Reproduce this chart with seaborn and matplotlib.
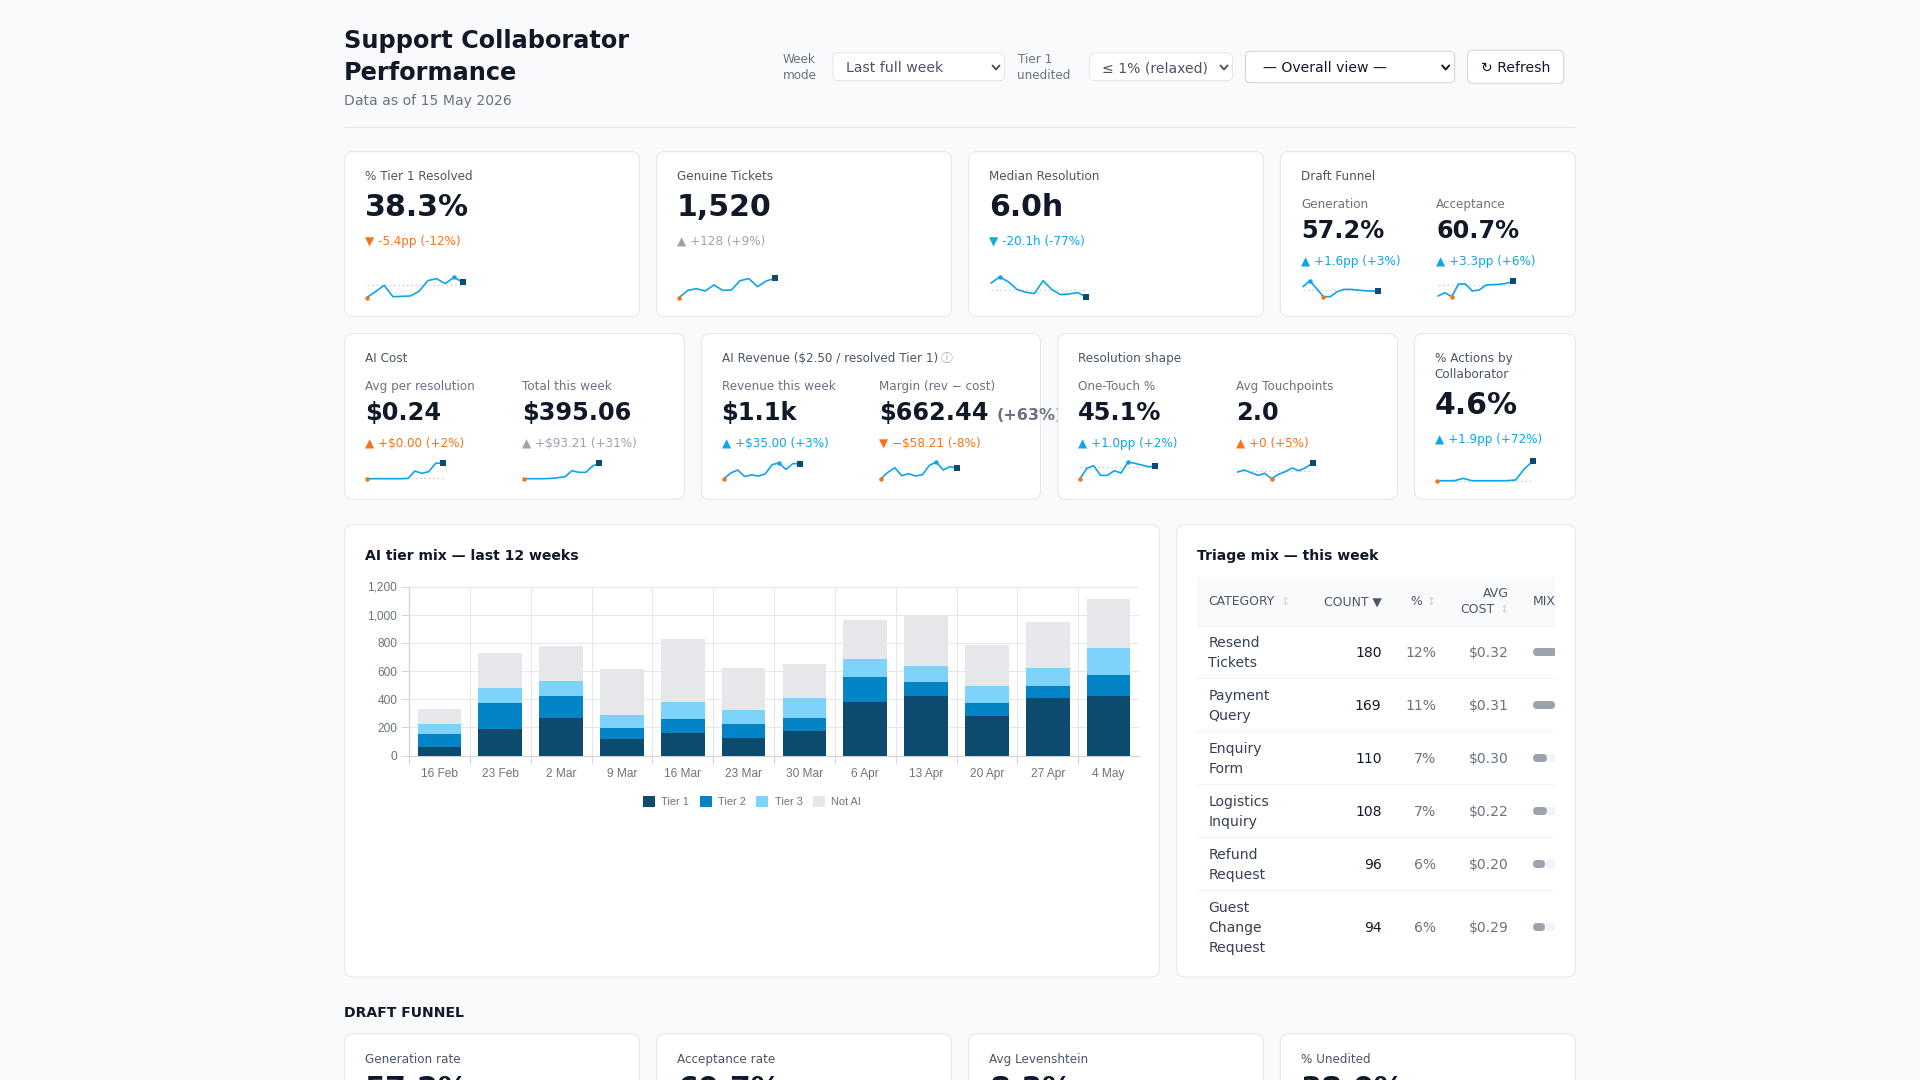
import matplotlib
matplotlib.use('Agg')
import matplotlib.pyplot as plt
import numpy as np
import pandas as pd
import seaborn as sns
from matplotlib.patches import FancyBboxPatch, Patch, Rectangle

# Dados do grafico empilhado
weeks = ['16 Feb', '23 Feb', '2 Mar', '9 Mar', '16 Mar', '23 Mar', '30 Mar', '6 Apr', '13 Apr', '20 Apr', '27 Apr', '4 May']
tier1 = [57, 188, 265, 119, 162, 124, 172, 382, 420, 281, 410, 425]
tier2 = [98, 184, 157, 77, 96, 100, 95, 176, 102, 91, 86, 148]
tier3 = [72, 110, 108, 95, 121, 100, 138, 127, 117, 124, 127, 193]
not_ai = [100, 245, 248, 322, 451, 299, 246, 276, 361, 286, 322, 348]

# Sparklines (12 semanas, escala relativa)
spark_tier1 = [0, 18, 37, 3, 4, 5, 19, 51, 57, 42, 61, 46]
spark_tickets = [0, 22, 27, 20, 38, 22, 23, 51, 57, 33, 50, 58]
spark_median = [42, 60, 46, 23, 15, 11, 49, 23, 8, 10, 14, 0]
spark_generation = [30, 48, 24, 0, 0, 15, 22, 22, 20, 18, 17, 17]
spark_acceptance = [2, 12, 0, 38, 38, 17, 20, 35, 36, 37, 40, 46]
spark_avg_cost = [0, 0, 0, 0, 0, 0, 1, 23, 16, 21, 46, 47]
spark_total_cost = [0, 0, 0, 0, 1, 3, 6, 24, 19, 19, 38, 47]
spark_revenue = [0, 18, 27, 7, 12, 8, 15, 44, 49, 29, 47, 47]
spark_margin = [0, 19, 33, 9, 15, 8, 12, 40, 50, 26, 36, 32]
spark_one_touch = [0, 31, 39, 10, 10, 24, 17, 50, 46, 41, 36, 37]
spark_touchpoints = [20, 26, 18, 10, 16, 0, 13, 21, 32, 24, 33, 47]
spark_actions = [0, 0, 0, 7, 0, 0, 0, 0, 0, 2, 35, 59]

# Tabela de triagem
triage_names = [['Resend', 'Tickets'], ['Payment', 'Query'], ['Enquiry', 'Form'],
                ['Logistics', 'Inquiry'], ['Refund', 'Request'], ['Guest', 'Change', 'Request']]
triage_count = [180, 169, 110, 108, 96, 94]
triage_pct = [12, 11, 7, 7, 6, 6]
triage_cost = [0.32, 0.31, 0.30, 0.22, 0.20, 0.29]

BG = '#f9fafb'
BORDER = '#e5e7eb'
DARK = '#111827'
LABEL = '#4b5563'
SUB = '#6b7280'
ORANGE = '#f97316'
SKY = '#0ea5e9'
GREY = '#9ca3af'
NAVY = '#0c4a6e'
W, H = 1920, 1080

sns.set_theme(style='white')
plt.rcParams['font.family'] = ['DejaVu Sans', 'Noto Sans CJK SC']

fig = plt.figure(figsize=(19.2, 10.8), dpi=100, facecolor=BG)
page = fig.add_axes([0, 0, 1, 1], zorder=0)
page.set_xlim(0, W)
page.set_ylim(H, 0)
page.axis('off')


def txt(x, y, s, px=12, color=LABEL, weight='normal', ha='left', va='baseline', z=5, family=None):
    t = page.text(x, y, s, fontsize=px * 0.72, color=color, fontweight=weight, ha=ha, va=va, zorder=z)
    if family:
        t.set_family(family)
    return t


def box(x0, y0, x1, y1, r=8, face='white', edge=BORDER, z=1):
    page.add_patch(FancyBboxPatch((x0 + r, y0 + r), x1 - x0 - 2 * r, y1 - y0 - 2 * r,
                                  boxstyle=f'round,pad={r},rounding_size={r}',
                                  facecolor=face, edgecolor=edge, linewidth=0.75, zorder=z))


def chevron(x, y, color=LABEL):
    page.plot([x - 3.5, x, x + 3.5], [y - 2, y + 2, y - 2], color=color, lw=1.4, zorder=5)


def spark(x0, x1, y_top, y_bot, values, base=None):
    ax = fig.add_axes([x0 / W, 1 - y_bot / H, (x1 - x0) / W, (y_bot - y_top) / H], zorder=4)
    ax.patch.set_alpha(0)
    pos = list(range(len(values)))
    sns.lineplot(x=pos, y=values, ax=ax, color=SKY, linewidth=1.2, errorbar=None, legend=False, clip_on=False)
    if base is not None:
        ax.axhline(base, color='#d1d5db', lw=0.9, ls=(0, (1.5, 2)), zorder=1, clip_on=False)
    lo, hi = int(np.argmin(values)), int(np.argmax(values))
    if hi != len(values) - 1:
        ax.plot(hi, values[hi], marker='o', ms=3.2, mew=0, color=SKY, clip_on=False)
    if lo != len(values) - 1:
        ax.plot(lo, values[lo], marker='o', ms=3.2, mew=0, color=ORANGE, clip_on=False, zorder=6)
    ax.plot(len(values) - 1, values[-1], marker='s', ms=3.8, mew=0, color=NAVY, clip_on=False, zorder=6)
    ax.set_xlim(0, len(values) - 1)
    ax.set_ylim(min(values), max(values))
    ax.axis('off')


# Cabecalho
txt(344, 48, 'Support Collaborator', 24, DARK, 'bold')
txt(344, 80, 'Performance', 24, DARK, 'bold')
txt(344, 105, 'Data as of 15 May 2026', 14, SUB)
page.plot([344, 1574.5], [126.5, 126.5], color=BORDER, lw=0.75, zorder=1, solid_capstyle='butt')

txt(782.5, 63, 'Week', 12, SUB)
txt(782.5, 79, 'mode', 12, SUB)
box(833, 53, 1004.5, 80.7, r=5)
txt(846.5, 68, 'Last full week', 14, LABEL, va='center')
chevron(996, 67.5)
txt(1017.5, 63, 'Tier 1', 12, SUB)
txt(1017.5, 79, 'unedited', 12, SUB)
box(1089.4, 53, 1232.5, 80.7, r=5)
txt(1102.5, 68, '≤ 1% (relaxed)', 14, LABEL, va='center')
chevron(1224, 67.5)
box(1245.5, 51.3, 1454.7, 82.7, r=5, edge='#d1d5db')
txt(1263, 68, '— Overall view —', 14, DARK, va='center')
chevron(1445.7, 67.5, DARK)
box(1467.5, 50.3, 1563.7, 83.3, r=5, edge='#d1d5db')
txt(1481, 68, '↻ Refresh', 14, DARK, va='center')

# Primeira linha de cards
for x0, x1 in [(344.7, 639.5), (656.5, 951.5), (968.6, 1263.5), (1280.4, 1575.5)]:
    box(x0, 151.7, x1, 316.5)
txt(365, 180, '% Tier 1 Resolved')
txt(365, 216, '38.3%', 30, DARK, 'bold')
txt(365, 245, '▼ -5.4pp (-12%)', 12, ORANGE)
spark(366.7, 462.7, 277.3, 297.7, spark_tier1, 37)

txt(677, 180, 'Genuine Tickets')
txt(677, 216, '1,520', 30, DARK, 'bold')
txt(677, 245, '▲ +128 (+9%)', 12, GREY)
spark(679, 775, 278.3, 297.7, spark_tickets)

txt(989, 180, 'Median Resolution')
txt(989, 216, '6.0h', 30, DARK, 'bold')
txt(989, 245, '▼ -20.1h (-77%)', 12, SKY)
spark(991, 1086.5, 277, 297.3, spark_median, 22)

txt(1301, 180, 'Draft Funnel')
txt(1301, 208, 'Generation', 12, SUB)
txt(1301, 237.5, '57.2%', 24, DARK, 'bold')
txt(1301, 265, '▲ +1.6pp (+3%)', 12, SKY)
spark(1303, 1378, 280.7, 296.7, spark_generation, 19)
txt(1436, 208, 'Acceptance', 12, SUB)
txt(1436, 237.5, '60.7%', 24, DARK, 'bold')
txt(1436, 265, '▲ +3.3pp (+6%)', 12, SKY)
spark(1438, 1513.5, 281.3, 296.7, spark_acceptance, 36)

# Segunda linha de cards
box(344.7, 333.7, 684.5, 499.3)
box(701.4, 333.7, 1040.5, 499.3)
box(1057.9, 333.7, 1397.5, 499.3, z=3)
box(1414.6, 333.7, 1575.5, 499.3)

txt(365, 362, 'AI Cost')
txt(365, 390, 'Avg per resolution', 12, SUB)
txt(365, 420, '$0.24', 24, DARK, 'bold')
txt(365, 447, '▲ +$0.00 (+2%)', 12, ORANGE)
spark(366.7, 442.5, 463, 478.7, spark_avg_cost, 2)
txt(522.5, 390, 'Total this week', 12, SUB)
txt(522, 420, '$395.06', 24, DARK, 'bold')
txt(522.5, 447, '▲ +$93.21 (+31%)', 12, GREY)
spark(523.8, 599.5, 463, 478.7, spark_total_cost)

txt(721.6, 362, 'AI Revenue ($2.50 / resolved Tier 1)')
txt(941, 362, 'ⓘ', 12, GREY, family=['Noto Sans CJK SC', 'DejaVu Sans'])
txt(721.6, 390, 'Revenue this week', 12, SUB)
txt(721.6, 420, '$1.1k', 24, DARK, 'bold')
txt(721.6, 447, '▲ +$35.00 (+3%)', 12, SKY)
spark(724, 799.7, 463, 478.7, spark_revenue)
txt(879, 390, 'Margin (rev − cost)', 12, SUB)
txt(879, 420, '$662.44', 24, DARK, 'bold')
txt(997, 420, '(+63%)', 16, SUB, 'bold', z=2)
txt(879, 447, '▼ −$58.21 (-8%)', 12, ORANGE)
spark(881, 957, 462, 478.7, spark_margin)

txt(1078, 362, 'Resolution shape')
txt(1078, 390, 'One-Touch %', 12, SUB)
txt(1078, 420, '45.1%', 24, DARK, 'bold')
txt(1078, 447, '▲ +1.0pp (+2%)', 12, SKY)
spark(1080, 1155.4, 462, 478.7, spark_one_touch, 36)
txt(1235.5, 390, 'Avg Touchpoints', 12, SUB)
txt(1235.7, 420, '2.0', 24, DARK, 'bold')
txt(1235.7, 447, '▲ +0 (+5%)', 12, ORANGE)
spark(1237.5, 1312.5, 463, 478.7, spark_touchpoints, 22)

txt(1434.7, 362, '% Actions by')
txt(1434.7, 378, 'Collaborator')
txt(1434.7, 414, '4.6%', 30, DARK, 'bold')
txt(1434.7, 443, '▲ +1.9pp (+72%)', 12, SKY)
spark(1437, 1533, 461, 480.7, spark_actions, 0)

# Card do grafico de barras
box(344.7, 524.7, 1159.5, 977)
txt(365, 560, 'AI tier mix — last 12 weeks', 14, DARK, 'bold')

df = pd.DataFrame({'week': weeks, 'Tier 1': tier1, 'Tier 2': tier2, 'Tier 3': tier3, 'Not AI': not_ai})
cum = df[['Tier 1', 'Tier 2', 'Tier 3', 'Not AI']].cumsum(axis=1)
tier_colors = {'Tier 1': NAVY, 'Tier 2': '#0284c7', 'Tier 3': '#7dd3fc', 'Not AI': BORDER}

ax = fig.add_axes([409 / W, 1 - 755.5 / H, (1139 - 409) / W, (755.5 - 586.5) / H], zorder=2)
ax.patch.set_alpha(0)
# Empilhado: desenha do total para a base
for name in ['Not AI', 'Tier 3', 'Tier 2', 'Tier 1']:
    sns.barplot(x=df['week'], y=cum[name], order=weeks, color=tier_colors[name], width=0.72,
                saturation=1, linewidth=0, ax=ax, zorder=3)
ax.set_xlim(-0.5, 11.5)
ax.set_ylim(0, 1200)
ax.set_yticks(range(0, 1201, 200))
ax.set_yticklabels(['0', '200', '400', '600', '800', '1,000', '1,200'])
ax.set_xticks(np.arange(-0.5, 11, 1), minor=True)
ax.set_xlabel('')
ax.set_ylabel('')
ax.set_axisbelow(True)
ax.grid(axis='y', color=BORDER, lw=0.75, zorder=0)
ax.grid(axis='x', which='minor', color=BORDER, lw=0.7, zorder=0)
ax.tick_params(axis='y', length=5.5, width=0.7, color='#d1d5db', pad=3, left=True,
               labelsize=8.6, labelcolor=SUB)
ax.tick_params(axis='x', which='major', length=0, pad=9.3, labelsize=8.6, labelcolor=SUB)
ax.tick_params(axis='x', which='minor', length=5.5, width=0.7, color='#d1d5db', bottom=True)
for lab in ax.get_xticklabels() + ax.get_yticklabels():
    lab.set_fontfamily('Liberation Sans')
sns.despine(ax=ax, top=True, right=True)
for side in ['left', 'bottom']:
    ax.spines[side].set_color('#d1d5db')
    ax.spines[side].set_linewidth(0.9)

handles = [Patch(facecolor=c, edgecolor='none', label=n) for n, c in tier_colors.items()]
leg = fig.legend(handles=handles, loc='center', bbox_to_anchor=(752 / W, 1 - 801.7 / H), ncol=4, frameon=False,
                 prop={'family': 'Liberation Sans', 'size': 7.9}, handlelength=1.1, handleheight=1.1,
                 handletextpad=0.55, columnspacing=1.0, labelcolor=SUB)

# Card da tabela
box(1176.7, 524.7, 1575.5, 977)
txt(1197, 560, 'Triage mix — this week', 14, DARK, 'bold')
page.add_patch(Rectangle((1197, 577), 358, 48.7, facecolor=BG, edgecolor='none', zorder=2))
txt(1208.5, 601.7, 'CATEGORY', 12.4, LABEL, va='center')
txt(1285, 601.7, '↕', 11, '#d1d5db', ha='center', va='center')
txt(1381.5, 601.7, 'COUNT ▼', 12.4, LABEL, ha='right', va='center')
txt(1416, 601.7, '%', 12.4, LABEL, ha='center', va='center')
txt(1431.5, 601.7, '↕', 11, '#d1d5db', ha='center', va='center')
txt(1509, 593.7, 'AVG', 12.4, LABEL, ha='right', va='center')
txt(1494.5, 609.7, 'COST', 12.4, LABEL, ha='right', va='center')
txt(1504, 609.7, '↕', 11, '#d1d5db', ha='center', va='center')
txt(1533, 601.7, 'MIX', 12.4, LABEL, va='center')

row_tops = [625.7, 678.3, 731.3, 784.3, 837.3, 890.3]
row_mids = [652, 705, 758, 811, 864, 927]
for top in row_tops:
    page.plot([1197, 1555], [top, top], color='#f3f4f6', lw=0.75, zorder=2, solid_capstyle='butt')
for names, count, pct, cost, mid in zip(triage_names, triage_count, triage_pct, triage_cost, row_mids):
    first = mid - 10 * (len(names) - 1)
    for i, name in enumerate(names):
        txt(1208.5, first + 20 * i + 1, name, 14, '#374151', va='center')
    txt(1381.5, mid + 1, str(count), 14, DARK, ha='right', va='center')
    txt(1436.5, mid + 1, f'{pct}%', 14, SUB, ha='right', va='center')
    txt(1509, mid + 1, f'${cost:.2f}', 14, SUB, ha='right', va='center')
    # Barra de mix cortada pela borda da tabela
    clip = Rectangle((1533, mid - 6), 22, 12, transform=page.transData)
    for width, color in [(30, '#f3f4f6'), (pct * 2, GREY)]:
        bar = FancyBboxPatch((1537, mid - 0.1), width - 8, 0.2, boxstyle='round,pad=3.9,rounding_size=3.9',
                             facecolor=color, edgecolor='none', zorder=4)
        page.add_patch(bar)
        bar.set_clip_path(clip)

# Funil (cortado na parte de baixo)
txt(344, 1017, 'DRAFT FUNNEL', 14, DARK, 'bold')
funnel_labels = ['Generation rate', 'Acceptance rate', 'Avg Levenshtein', '% Unedited']
funnel_values = ['57.2%', '60.7%', '8.3%', '38.0%']
for (x0, x1), lab, val in zip([(344.7, 639.5), (656.5, 951.5), (968.6, 1263.5), (1280.4, 1575.5)], funnel_labels, funnel_values):
    box(x0, 1034, x1, 1200)
    txt(x0 + 20.4, 1063, lab)
    txt(x0 + 20.4, 1098, val, 30, DARK, 'bold')

fig.savefig('out.png', dpi=100, facecolor=BG)
